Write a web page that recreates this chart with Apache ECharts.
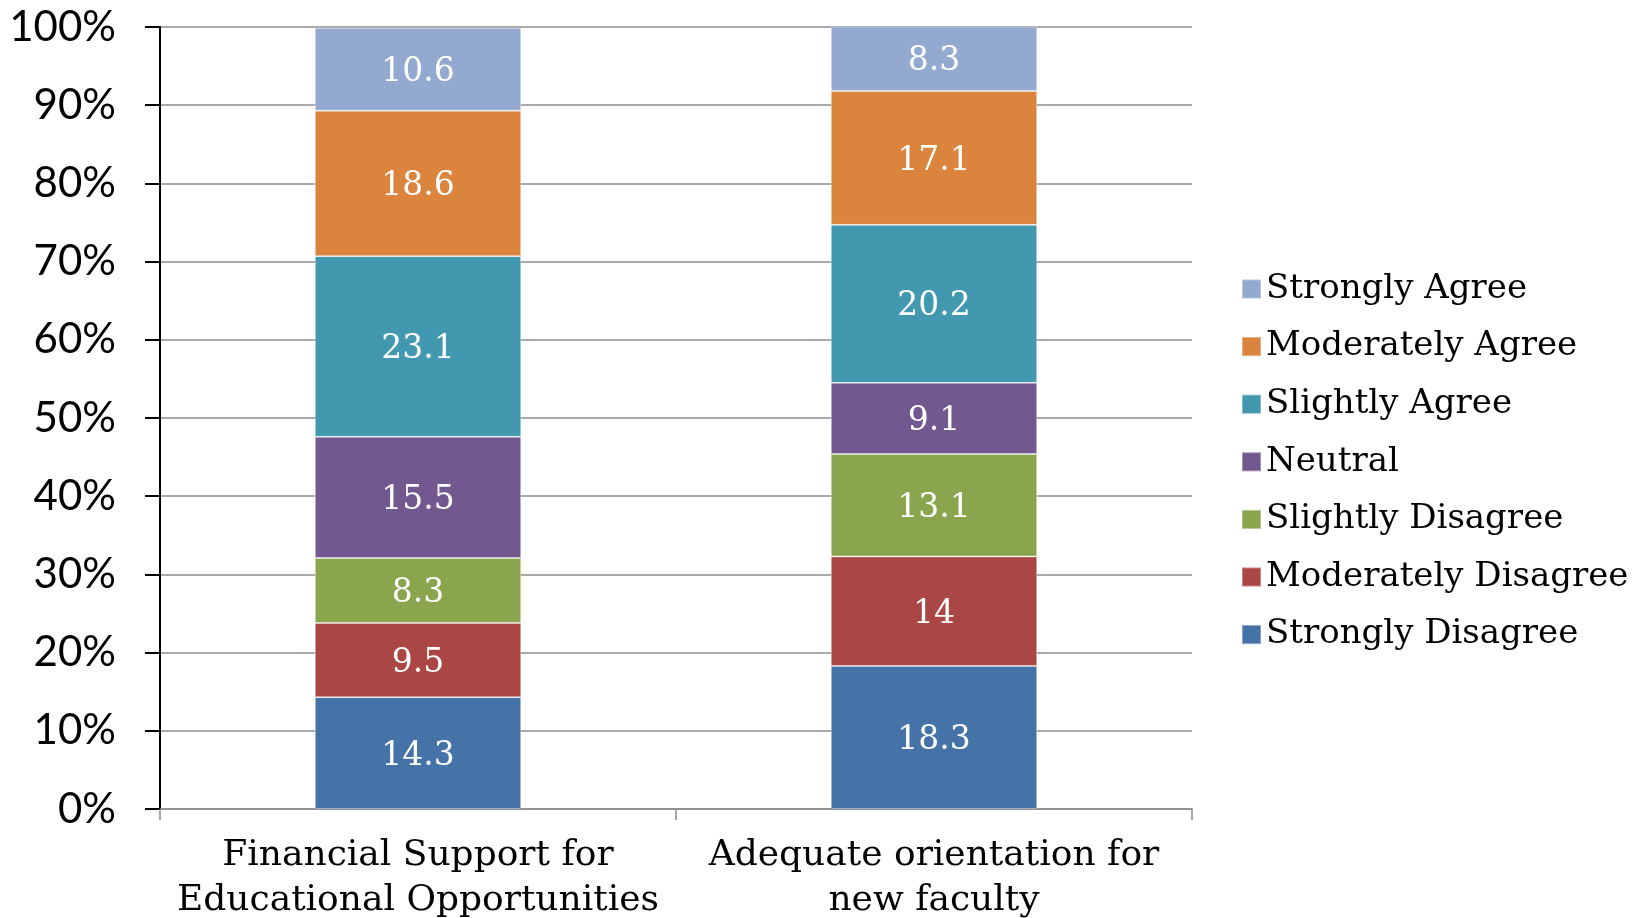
<!DOCTYPE html>
<html>
<head>
<meta charset="utf-8">
<script src="https://cdn.jsdelivr.net/npm/echarts@6/dist/echarts.min.js"></script>
<style>
  html, body { margin: 0; padding: 0; background: #fff; }
  #chart { width: 1648px; height: 918px; }
</style>
</head>
<body>
<div id="chart"></div>
<script>
// Survey items (x-axis categories)
const categories = [
  'Financial Support for\nEducational Opportunities',
  'Adequate orientation for\nnew faculty'
];

// Response shares per item, bottom of the stack first
const stronglyDisagree   = [14.3, 18.3];
const moderatelyDisagree = [9.5, 14];
const slightlyDisagree   = [8.3, 13.1];
const neutral            = [15.5, 9.1];
const slightlyAgree      = [23.1, 20.2];
const moderatelyAgree    = [18.6, 17.1];
const stronglyAgree      = [10.6, 8.3];

const seriesNames = [
  'Strongly Disagree', 'Moderately Disagree', 'Slightly Disagree', 'Neutral',
  'Slightly Agree', 'Moderately Agree', 'Strongly Agree'
];
const seriesValues = [
  stronglyDisagree, moderatelyDisagree, slightlyDisagree, neutral,
  slightlyAgree, moderatelyAgree, stronglyAgree
];
const seriesColors = [
  '#4572A7', '#AA4643', '#89A54E', '#71588F', '#4198AF', '#DB843D', '#93A9CF'
];

const yTicks = { min: 0, max: 100, interval: 10 };

const chart = echarts.init(document.getElementById('chart'), null, { renderer: 'canvas' });

const series = seriesNames.map((name, i) => ({
  name: name,
  type: 'bar',
  stack: 'total',
  barWidth: '40%',
  data: seriesValues[i],
  itemStyle: { color: seriesColors[i], borderColor: 'rgba(255,255,255,0.35)', borderWidth: 1 },
  label: {
    show: true,
    position: 'inside',
    formatter: '{c}',
    offset: [0, 3],
    color: '#ffffff',
    fontFamily: 'DejaVu Serif',
    fontSize: 33
  },
  emphasis: { disabled: true }
}));

chart.setOption({
  animation: false,
  backgroundColor: '#ffffff',
  grid: { left: 160, right: 456, top: 27, bottom: 109, containLabel: false, outerBoundsMode: 'none' },
  legend: {
    orient: 'vertical',
    left: 1236,
    top: 264,
    data: seriesNames.slice().reverse(),
    icon: 'rect',
    itemWidth: 19,
    itemHeight: 19,
    itemGap: 17.6,
    textStyle: {
      fontFamily: 'DejaVu Serif',
      fontSize: 34,
      lineHeight: 40,
      color: '#000000',
      padding: [0, 0, 0, 0]
    }
  },
  xAxis: {
    type: 'category',
    data: categories,
    axisLine: { lineStyle: { color: '#8a8a8a', width: 1.5 } },
    axisTick: { show: true, interval: 0, length: 11, lineStyle: { color: '#8a8a8a', width: 1.5 } },
    axisLabel: {
      interval: 0,
      margin: 24,
      color: '#000000',
      fontFamily: 'DejaVu Serif',
      fontSize: 36,
      lineHeight: 45,
      align: 'center'
    }
  },
  yAxis: {
    type: 'value',
    min: yTicks.min,
    max: yTicks.max,
    interval: yTicks.interval,
    axisLine: { show: true, lineStyle: { color: '#000000', width: 2 } },
    axisTick: { show: true, length: 15, lineStyle: { color: '#000000', width: 2 } },
    axisLabel: {
      formatter: '{value}%',
      margin: 44,
      color: '#000000',
      fontFamily: 'Lato',
      fontSize: 42
    },
    splitLine: { show: true, lineStyle: { color: '#8c8c8c', width: 1.5 } }
  },
  series: series
});
</script>
</body>
</html>
